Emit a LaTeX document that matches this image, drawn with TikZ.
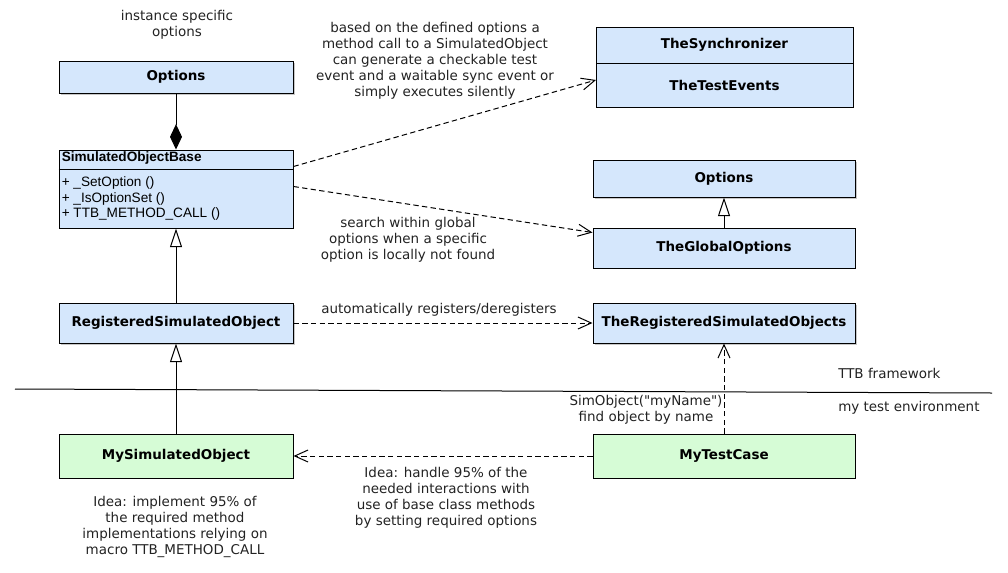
\documentclass[tikz,border=0pt]{standalone}
\usepackage{fontspec}
\setmainfont{DejaVu Sans}
\newfontfamily\qf{DejaVu Sans}[Ligatures=TeXOff]
\newfontfamily\arialf{Liberation Sans}
\usetikzlibrary{arrows.meta,calc,shadows}
\definecolor{cblue}{RGB}{213,231,252}
\definecolor{cgreen}{RGB}{214,252,214}
\definecolor{ctext}{RGB}{34,34,34}
\begin{document}
\begin{tikzpicture}[x=0.75pt,y=-0.75pt,
  cls/.style={draw=black, line width=0.75pt, fill=cblue, inner sep=0pt,
    minimum width=175.5pt, font=\fontsize{10.1}{12}\selectfont\bfseries},
  clsr/.style={cls, minimum width=196.5pt},
  green/.style={fill=cgreen},
  shad/.style={drop shadow={shadow xshift=1.5pt, shadow yshift=-1.5pt, opacity=0.22, fill=black}},
  lbl/.style={align=center, inner sep=0pt, text=ctext, font=\fontsize{10.1}{12}\selectfont},
  lbll/.style={lbl, align=left, anchor=west},
  conn/.style={line width=0.75pt},
  dep/.style={conn, dash pattern=on 4pt off 2.5pt, -{Straight Barb[length=10pt,width=9pt,line width=0.75pt]}},
  inh/.style={conn, -{Triangle[open,length=14pt,width=9pt,fill=white,line width=0.75pt]}},
  comp/.style={conn, -{Diamond[length=19pt,width=9pt]}}
]
\useasboundingbox (0,0) rectangle (1008,572);

% left column
\node[cls, shad, minimum height=24pt] (opt1) at (176,77) {Options};
\node[cls, minimum height=58.5pt] (sob) at (176,189) {};
\draw[line width=0.75pt] ($(sob.north west)+(0,20)$) coordinate (sobl) -- ($(sob.north east)+(0,20)$) coordinate (sobr);
\node[anchor=west, inner sep=0pt, font=\arialf\fontsize{10.2}{12}\selectfont\bfseries] (sobh) at ($(sob.north west)+(3,8)$) {SimulatedObjectBase};
\node[anchor=north west, align=left, inner sep=0pt, font=\arialf\fontsize{10.2}{11.6}\selectfont] (sobm) at ($(sob.north west)+(3,27)$) {+ \_SetOption ()\\+ \_IsOptionSet ()\\+ TTB\_METHOD\_CALL ()};
\node[cls, shad, minimum height=30pt] (rso) at (176,323) {RegisteredSimulatedObject};
\node[cls, green, minimum height=33pt] (mso) at (176,456) {MySimulatedObject};

% right column
\node[clsr, outer sep=0pt, minimum width=192.75pt, minimum height=27pt] (synca) at (724.5,45) {TheSynchronizer};
\node[clsr, outer sep=0pt, minimum width=192.75pt, minimum height=33pt, anchor=north] (syncb) at (synca.south) {TheTestEvents};
\node[clsr, shad, minimum height=27.75pt] (opt2) at (724,178.5) {Options};
\node[clsr, minimum height=30pt] (glob) at (724,248) {TheGlobalOptions};
\node[clsr, shad, minimum height=30pt] (trso) at (724,323) {TheRegisteredSimulatedObjects};
\node[clsr, green, minimum height=33pt] (mtc) at (724,456) {MyTestCase};

% connectors
\draw[comp] (opt1.south) -- (sob.north);
\draw[inh] (rso.north) -- (sob.south);
\draw[inh] (mso.north) -- (rso.south);
\draw[inh] (glob.north) -- (opt2.south);
\draw[dep] ($(sob.north east)+(0,17)$) -- ($(syncb.west)+(0,-5)$);
\draw[dep] ($(sob.north east)+(0,37)$) -- ($(glob.north west)+(0,5)$);
\draw[dep] (rso.east) -- (trso.west);
\draw[dep] (mtc.west) -- (mso.east);
\draw[dep] (mtc.north) -- (trso.south);

% boundary line
\draw[line width=0.75pt] (15,389) coordinate (bl) -- (992,393) coordinate (br);

% labels
\node[lbl] (t1) at (177,25) {instance specific\\options};
\node[lbl] (t2) at (435,61) {based on the defined options a\\method call to a SimulatedObject\\can generate a checkable test\\event and a waitable sync event or\\simply executes silently};
\node[lbl] (t3) at (408,240) {search within global\\options when a specific\\option is locally not found};
\node[lbl] (t4) at (439,310) {automatically registers/deregisters};
\node[lbll] (t5) at (838,373) {TTB framework};
\node[lbll] (t6) at (838,408) {my test environment};
\node[lbl] (t7) at (646,410) {{\qf SimObject("myName")}\\find object by name};
\node[lbl] (t8) at (446,498) {Idea: handle 95\% of the\\needed interactions with\\use of base class methods\\by setting required options};
\node[lbl] (t9) at (175,527) {Idea: implement 95\% of\\the required method\\implementations relying on\\macro TTB\_METHOD\_CALL};
\end{tikzpicture}
\end{document}
